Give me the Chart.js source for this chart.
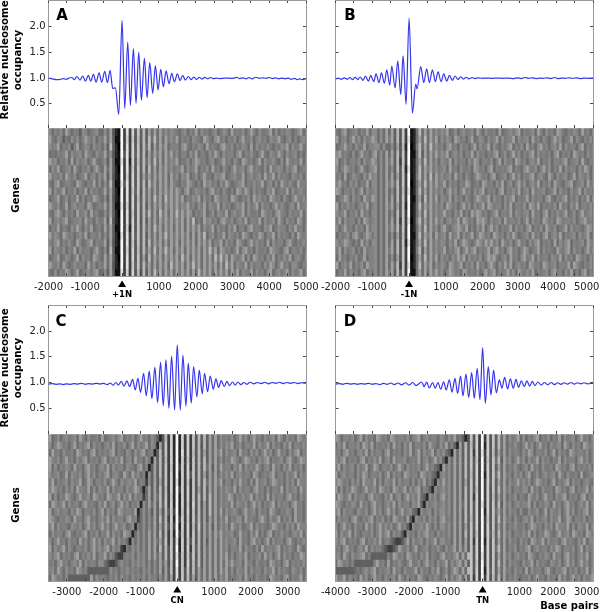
<!DOCTYPE html>
<html>
<head>
<meta charset="utf-8">
<script src="https://cdn.jsdelivr.net/npm/chart.js@4"></script>
<style>
html, body { margin: 0; padding: 0; background: #fff; }
#page { position: relative; width: 600px; height: 612px; overflow: hidden; }
canvas { position: absolute; }
canvas.heat { filter: blur(0.5px); }
</style>
</head>
<body>
<div id="page"></div>
<script>
// occupancy profiles, [base pair, value], peaks and troughs
var lineA = [[-2000,1.0],[-1900,.985],[-1780,.97],[-1680,.975],[-1590,.99],[-1520,.975],[-1440,1.0],[-1368,1.01],[-1295,.97],[-1232,1.03],[-1142,.96],[-1069,1.04],[-997,.94],[-915,1.05],[-852,.94],[-779,1.07],[-707,.92],[-625,1.10],[-553,.92],[-471,1.13],[-399,.91],[-326,1.15],[-254,.80],[-181,.81],[-90,.29],[0,2.12],[72,.41],[154,1.70],[226,.47],[308,1.57],[380,.51],[453,1.50],[525,.57],[607,1.38],[680,.62],[752,1.30],[833,.70],[906,1.24],[978,.77],[1051,1.17],[1123,.83],[1196,1.14],[1277,.89],[1350,1.09],[1422,.93],[1504,1.08],[1576,.95],[1649,1.05],[1721,.96],[1803,1.03],[1875,.97],[1950,1.02],[2020,.975],[2100,1.015],[2170,.98],[2250,1.012],[2320,.985],[2400,1.01],[2480,.99],[2570,1.0],[2650,.99],[2750,.995],[2850,1.0],[2950,.995],[3050,1.0],[3120,1.015],[3200,.99],[3290,1.005],[3370,.985],[3450,1.01],[3530,.985],[3640,1.015],[3730,.995],[3830,1.005],[3920,.995],[4000,1.01],[4090,.99],[4170,1.005],[4260,.985],[4340,1.0],[4430,.99],[4520,1.0],[4600,.975],[4690,.995],[4760,.97],[4830,.985],[4910,.97],[5000,.99]];
var lineB = [[-2000,.98],[-1920,1.0],[-1840,.975],[-1760,1.005],[-1680,.975],[-1610,1.01],[-1530,.97],[-1470,1.015],[-1390,.97],[-1332,1.02],[-1250,.955],[-1187,1.04],[-1105,.94],[-1042,1.05],[-960,.93],[-897,1.08],[-815,.91],[-752,1.10],[-670,.90],[-607,1.16],[-525,.86],[-471,1.23],[-380,.81],[-308,1.33],[-226,.68],[-163,1.43],[-82,.49],[0,2.16],[90,.32],[181,.88],[217,.79],[317,1.22],[399,.91],[480,1.18],[553,.91],[634,1.16],[716,.93],[788,1.12],[870,.93],[942,1.08],[1024,.94],[1097,1.05],[1178,.955],[1250,1.04],[1330,.97],[1400,1.025],[1480,.98],[1550,1.015],[1630,.985],[1710,1.01],[1790,.99],[1880,1.005],[1980,.995],[2100,1.0],[2250,.995],[2400,1.0],[2550,.995],[2700,1.0],[2850,.99],[2950,1.005],[3050,.99],[3150,1.01],[3250,.995],[3350,1.005],[3450,.99],[3550,1.0],[3650,.995],[3750,1.005],[3850,.99],[3950,1.01],[4050,.99],[4150,1.0],[4250,.995],[4350,1.005],[4450,.995],[4550,1.005],[4650,.99],[4750,1.0],[4850,.995],[5000,1.0]];
var lineC = [[-3500,.97],[-3400,.98],[-3300,.965],[-3200,.975],[-3100,.96],[-3000,.975],[-2900,.965],[-2800,.98],[-2700,.97],[-2600,.985],[-2500,.965],[-2400,.98],[-2300,.97],[-2200,.985],[-2100,.97],[-2000,.985],[-1900,.96],[-1820,.99],[-1740,.95],[-1670,1.0],[-1600,.95],[-1522,1.02],[-1450,.93],[-1368,1.03],[-1296,.92],[-1214,1.06],[-1142,.855],[-1069,1.08],[-997,.81],[-915,1.18],[-843,.74],[-761,1.22],[-689,.685],[-607,1.295],[-535,.61],[-453,1.39],[-380,.55],[-308,1.44],[-226,.50],[-154,1.515],[-72,.466],[0,1.73],[82,.466],[154,1.53],[236,.54],[299,1.37],[381,.60],[444,1.31],[535,.72],[598,1.24],[680,.78],[743,1.18],[824,.82],[897,1.125],[978,.87],[1051,1.07],[1123,.906],[1196,1.035],[1277,.92],[1350,1.02],[1422,.94],[1504,1.01],[1576,.95],[1649,1.01],[1730,.96],[1810,1.0],[1890,.965],[1980,1.005],[2080,.975],[2180,1.0],[2280,.98],[2380,1.005],[2480,.975],[2580,1.0],[2680,.985],[2780,1.005],[2880,.98],[2980,1.0],[3080,.985],[3180,1.0],[3280,.98],[3380,.995],[3500,.985]];
var lineD = [[-4000,.97],[-3900,.98],[-3800,.965],[-3700,.985],[-3600,.97],[-3500,.98],[-3400,.965],[-3300,.98],[-3200,.97],[-3100,.985],[-3000,.965],[-2900,.98],[-2800,.96],[-2700,.985],[-2600,.965],[-2500,.99],[-2400,.96],[-2300,.99],[-2200,.955],[-2100,.995],[-2000,.95],[-1900,1.0],[-1810,.94],[-1660,1.01],[-1590,.92],[-1522,1.01],[-1450,.895],[-1360,1.0],[-1290,.89],[-1214,1.0],[-1140,.87],[-1060,1.015],[-990,.855],[-906,1.05],[-833,.815],[-752,1.08],[-680,.79],[-600,1.125],[-535,.74],[-453,1.165],[-380,.71],[-299,1.19],[-226,.69],[-150,1.275],[-72,.67],[0,1.68],[72,.595],[154,1.31],[226,.76],[299,1.24],[371,.80],[453,1.05],[525,.89],[598,1.10],[680,.875],[752,1.07],[833,.89],[906,1.06],[978,.905],[1051,1.03],[1133,.92],[1205,1.03],[1277,.93],[1350,1.02],[1422,.94],[1504,1.01],[1590,.95],[1680,1.0],[1770,.955],[1860,1.0],[1950,.96],[2040,.995],[2130,.965],[2220,.995],[2310,.97],[2400,1.0],[2490,.97],[2580,.995],[2670,.975],[2760,.995],[2850,.975],[3000,.985]];

// heatmaps, one hex digit per 75 bp column (grey level), one string per row of genes.
// Coarse hand reading: stripes and the curved edges follow the picture, the fine grain is only approximated
var heatA = [
"7968796A86 8759867896 696A421F3E 3D4C5B5A6A 6A79798768 9687A69786 8967986A78 7968A86977 8A69687986 79A68",
"8A76985769 7968A87968 7A6A511F3D 3C4B5B5B6B 6A6A797A68 7869876A97 69A7868796 8A77968978 6988A76896 86897",
"6978A68795 8A67986978 695B520F3E 3D4C4B6B5A 6A7A688869 A7687986A7 8769A87968 7986A69787 9768798A69 78A76",
"9676878A69 7896A87697 7A69421F4E 3D5C5B5A6A 7A6A7A7968 8697A68769 7A86978869 A6879768A7 6987A86978 96867",
"7A8968796A 6978968A76 795A511E3E 2D4B5B6A6B 6A6A798A67 7968A97868 9678A78697 6A97868A69 7897696A87 87A69",
"8697A67896 A7687968A7 6A6A520F3E 3C4C5B5B6A 6A7A79788A 6978A68796 A7869768A7 8969A78769 6A78986979 A6788",
"6A78796A87 9678A68969 7A5A421F3D 3D4C5A6A6A 7A7A6A7969 8A67968A77 6989A67897 7A6897896A 78A6978769 87968",
"8769A67887 6A97687A69 696B511E4E 3D4C5B5B7A 6A7A6A8768 7A97686A89 78697A8678 9A687978A6 89696A8797 6A786",
"7A6978A687 9687A69786 7A6A520F3E 3C5C4B6A6A 6A7A7A7A86 9A67987869 A78697686A 97A8697876 98A6787A69 78976",
"9678A67968 7A69687A97 695A421F3E 3D4B5B6A6B 7A6B7A7A7A 68798A6978 6A97886A97 68796A8978 6A97869768 A8796",
"6A87967A68 97886A9678 7A6A511E3D 3D4C5B5A6A 7A6A7A7A79 8A78697A69 87A6978679 8A6978A697 868A797689 6A788",
"8769A86978 6A7896A786 696A520F3E 3C4C5B6B6A 6B7A6A7B7A 7A96878A67 96987A6897 8A697786A9 7869A87697 87A68",
"7A68979A67 8896A78697 7A5B421F3E 3D4C4B5A6A 6A7A7A7A7A 6A7B686A89 7869A87968 97A6887A69 7896A86978 6A967",
"9687A68769 7A8697A678 6A6A511F3D 2D4C5B6A6B 7A6A7A6A7A 6A7A7A6978 A6978697A6 8869A78769 8A67988697 A7869",
"6A7986A978 6897A68879 696A520E3E 3D5C5B5A6A 6A7B7A7A7A 7A6A6A7B68 9687A69878 6A97687A96 88A6978769 6A878",
"8879A68797 6A8679A687 7A5A421F3E 3C4C5B5B6A 7A6A6A7A6A 7A7A6A7A7A 688A69786A 9768A79786 A6978869A7 68796",
"7A69879687 A6978868A7 695B511F3D 3D4B5B6A6B 6A7B7A6A7A 6A7A7A6A7B 7A6A97868A 69A7869778 6A98769A68 87968",
"9678A67986 8A69786A97 6A6A520F3E 3D4C5A5B6A 7A6A7A7A6B 7A6A7A6A7A 6B7B7A6A87 8A696A9786 97A68797A6 8976A",
"6A8796A867 97886A7968 7A6A421F3E 3C5C5B6A6A 6A7A6B7A7A 6A7B7A6A7A 7A6A6B7A69 87A6978869 7A968A7869 97687",
"8769687A96 8A678979A6 695A511E3D 3D4B4B5A6B 7A6A7A6A7A 7A6A6B7A7A 6A7A7A6A7A 6987A69786 9A68978A69 78A67"
];
var heatB = [
"8769A67896 87A699696A 6A5B4C3F12 6B6A6A7979 8A67968978 96A8697786 A678979A68 7896A86978 6A97687986 A7869",
"7A68968A79 6978A9696A 7A5B4C3E12 6A6B6A7A69 7986A97868 A67986978A 69788A6978 96A7869768 A89678A697 68796",
"9678A78697 7A68899696 695A4B2F02 7B6A6B7978 69A7869786 8A6978A697 6879A68796 A7869A7868 97A6978869 A6878",
"69A7876968 A7869A696A 6A5B4C3F11 6B5A6A7A79 8A68979687 A69786879A 67968A7968 79A6978786 9A68786A97 86978",
"8A67968879 6978A9696A 7A5B3C3F12 6A6B6A7969 87A6978869 7A96887968 A69786A978 6897A68796 8879A67896 A7687",
"7968A97868 A7689A696A 695B4C2E12 6B6A7A7978 96A7869778 6A97869A68 7879A68769 A87968A796 87A6978869 7A968",
"9786A67987 697A89696A 6A5A4C3F12 7B6A6B6A79 7896A78697 68A97869A6 78968A7968 79A68976A8 6978967A69 87968",
"68A7869796 87A699696A 7A6B4C3F02 6A6B6A7A78 A6978687A9 6786A97869 7A68968A79 6897A68796 A87689A678 96A78",
"7A96887968 A69789696A 695B4B3E12 6B6A6A7979 68A7968A78 6979A68786 9A68797A68 96A7889678 A69786978A 69786",
"8678A96978 6A87A9696A 6A5B4C3F11 6A5B6A7A69 87A6978697 68A978A697 86979A6878 A6978869A7 6879A68796 87A69",
"9A68797868 97A689696A 7A5A4C2F12 6B6A7A7979 6A97868A79 6978A6A978 8697A68879 6A97A68787 96A78697A6 88796",
"6978A68796 A78699696A 695B4C3F12 6A6B6A7978 A78697A686 A8A978679A 6887A69878 96A7869A68 7978A67968 A7896",
"87A6978869 6A9789696A 6A5B3C3E02 7B6A6A7A79 68978A6A97 86A9A86978 96A7887968 A69786A978 6A97887968 9A786",
"7968A78697 86A799696A 7A6B4C3F12 6A6B6A7969 A7689A97A6 8697A68A79 6878A69786 9A68796A87 9678A69787 68A96",
"A6878969A7 68A979696A 695A4B3F11 6B6A7A6A78 96A78A6978 A68A9786A9 78697A8678 96A7869A68 97A6878969 78A67",
"6978A97686 A79699696A 6A5B4C2E12 6A6B6A7979 8697A68A97 68A97A8A79 6A87968A78 6979A68786 A6979A6878 96A87",
"87A6978968 6A7889696A 7A5B4C3F12 7B5A6A7978 A6879A68A7 9A6878A69A 7869A7868A 9678A69787 6A879A6978 68A79",
"96A7868796 7A6889696A 695A4C3F02 6A6B6A7A69 78697A8A69 787968A9A7 6896A7869A 78A6978869 87A69786A9 78696",
"7A6897A687 96A889696A 6A6B3C3E12 6B6A7A6979 86A978A687 96A7869A86 97A7A68978 6A9786A978 96887A6A97 68796",
"8687A69786 9A6879696A 7A5B4C3F11 6A6A6A7A79 68A9786A97 87968A79A6 878A796A87 97A6878969 A78697A686 9A687"
];
var heatC = [
"8A67968978 96A8697786 A678979A68 7968A78697 524B3D2F2D 3D3C4B5B5A 6A69787968 A7968A7869 7896A86978 6A978",
"7968A97868 A6879A6978 6897A68796 8A6978A697 2A4C3D2F2D 3D3C4B4B5A 6A69798A67 96887A6978 A6978697A6 88796",
"96A7869778 6A97869A68 7879A68769 86979A6782 5B4C3D2F2E 3D3B4B5A5A 6A7A697896 A78697968A 7968A78697 9A687",
"6A87968A78 6979A68786 9A68797A68 96A786972A 5B4B3D2F2D 3C3C4B5B5A 6A69687A97 68A9786979 A6878969A7 68A97",
"8A69687986 A7869A7868 97A6978869 8769A6825A 5B4C3C2F3D 3D3C4B5B6A 5A6A788697 A69787A868 96A78697A6 87968",
"6978967A69 87968A7968 79A68976A8 6A7968295A 5B4C3D2F2D 3D4C4B5A5A 6A69797A68 97886A9678 79A6886978 A6978",
"97A6878969 78A67A9688 7968A86978 97A687395A 5A4C3D2E2D 3C3C4B5B6A 6A7A688697 A78696A789 68A9786979 6A887",
"68A9786979 6A887A6969 87A6978869 78A9626A5A 5B4B3D2F3D 3D3C4A5B5A 6A697987A6 978869A786 96887A6978 96A78",
"7A69687A97 68A7896A97 86A978A697 A697836A5A 6B4C3C2F2D 3D3C4B5B5B 6A6978A968 7978A69786 A6978869A7 86978",
"86A978A697 8869A78769 7A68968A79 6879296A6A 5B5C3D2F2D 3C3D4B4A5B 6A69787A69 87968A7968 79A6978869 A7869",
"9A68978869 7A96887968 A69786A978 87A269695A 5A4B4C3F2C 3D3C4B5A5B 6A6A697897 68A7896978 6A97687986 A7869",
"6A97687986 A7869A7868 97A6978869 A78369696A 5B5B3D2F3D 3C3C5B5A5A 6A697A6879 96A78769A8 6978A68796 A7869",
"78A6978769 87968A7968 A7968A7896 792769696A 5A5B4C3F2D 3D3B4C5A6A 5A69796A87 9678A69787 68A9786979 6A887",
"A6978869A7 6879A68796 87A69786A9 8269696A6A 5B4B3C2F3C 3D3C4B5A6A 6A7A788967 A78697A686 9A68797868 97A68",
"7968A78697 86A7968A79 6978A69786 2969696A6A 6A5C3C3E2D 3C4C4B5A5A 6A6A797896 A7869A7868 A6978869A7 68796",
"8A6978A697 6887968A79 79A6978327 6979696A6A 5B5B4C3F2D 3D3C5B5A6A 6A6A796887 A6978696A7 8879A68797 6A867",
"6979A68786 9A68797A68 8A69743378 7969796A6A 6A5B4C3E3C 3C4C4B5A6A 6A6A7A6968 97A687896A 7968A69786 87A96",
"A7869A7868 97A6978869 9643347978 6979796969 6A6A4B3F3C 3D4B5B5A6A 6A6A6A7A78 96A7869778 6A97869A68 78796",
"7896A86978 6A97855555 5559786879 7878697969 6A5A5B3E3C 4C4B5A6A6A 6A6A7A6969 87A6978869 78A6978769 87968",
"86A9786955 555555A697 8768796978 6978796978 696A5A3E3C 4B5A5A6A6A 6A697A6878 96A7869778 6A97869A68 78A69"
];
var heatD = [
"7A96887968 A69786A978 6A97887968 9A68978869 8697A67524 C4D3F3D4C5 B6A6978A69 6879A68796 87A6978968 A7869",
"8697A68879 6A97A68787 96A78697A6 88796A8769 7A6852A5B5 B4D3F2D4C5 B6A6879768 A7968A7869 7896A86978 6A978",
"A7869A7868 97A6978869 A6878697A6 8A6978A697 9652A6A5B5 C3D3E3D4B5 A6A6978869 7A96887968 A69786A978 87968",
"6979A68786 9A68797A68 96A7889678 7A68968A79 5296A6A5B5 C4C3F3C4C6 B5A7968A79 6978A69786 87A6978869 A7968",
"87A6978969 78A67A9688 7968A86978 7968A78652 A796A6A5B5 C4D3F3D4C5 A6A6879768 96A7869778 6A97869A68 78796",
"9A68978869 7A96887968 A69786A978 86A9786528 9796A6A5B5 B4D3F2D4C6 B6A7869796 8A67968978 96A8697786 A6789",
"68A9786979 6A887A6969 87A6978869 697A685297 A796A6A5A5 C4D3F3D5C5 A6A6978A79 7968A97868 A6879A6978 68976",
"7A69687A97 68A7896A97 86A978A697 9A68752978 9796A6A5B5 C4C3F3D4C5 B6A7968879 96A7869778 6A97869A68 78A69",
"86A978A697 8869A78769 7A68968A79 7A65297969 A796A6A5B5 C3D3F3D4B5 A6A6879687 6A87968A78 6979A68786 9A687",
"6A97687986 A7869A7868 97A6978869 8A52978978 9796A6A6B5 C4D3E3D4C5 B5A7968978 8A69687986 A7869A7868 97A69",
"78A6978769 87968A7968 A7968A7896 5297896979 9796A6A5B5 C4D3F2D4C6 A6A6978696 6978967A69 87968A7968 79A68",
"A6978869A7 6879A68796 86A9786A52 9879697969 A786A6A5B5 B4D3F3C4C5 B6A7869768 97A6878969 78A67A9688 79687",
"7968A78697 86A7968A79 7968A78529 7897A86969 9796A6A5A5 C4D3F3D4C5 A6A6879778 68A9786979 6A887A6969 87A69",
"8A6978A697 6887968A79 A697852978 6979A78697 8796A6A5B5 C4C3F3D5B5 B6A7968879 7A69687A97 68A7896A97 86A97",
"6979A68786 9A68797A68 8643347A69 7896978A69 9786A6A5A5 C3D3F2D4C5 A6A6978697 86A978A697 8869A78769 7A689",
"A7869A7868 97A6978864 3346A87968 A678968797 6978A6A6A5 C4D3F3D4C6 B6A6879687 9A68978869 7A96887968 A6978",
"7896A86978 9A68555555 86A9786A97 8697A68769 A7879A6A6B C4D3E3D4C5 A6A7968978 6A97687986 A7869A7868 97A68",
"86A9786855 555558A786 A6879768A7 7968A78697 8A6979A6A5 C4C3F3D4C5 B6A6978769 78A6978769 87968A7968 A7968",
"5555555567 68979A6878 96A7869778 A6978697A6 7968A96A6B C4D3F2D5C5 A6A7869786 A6978869A7 6879A68796 87A69",
"8A78A69786 A7968A7869 7896A86978 6A97687986 8A6979A6A5 C3D3F3D4B5 B6A6879768 7968A78697 86A7968A79 6978A"
];

var xTicksAB = [-2000, -1000, 1000, 2000, 3000, 4000, 5000];
var xLabelsA = ["-2000", "-1000", "1000", "2000", "3000", "4000", "5000"];
var xLabelsB = ["-2000", "-1000", "1000", "2000", "3000 ", "4000  ", "5000    "];
var xTicksC = [-3000, -2000, -1000, 1000, 2000, 3000];
var xLabelsC = ["-3000", "-2000", "-1000", "1000", "2000", "3000"];
var xTicksD = [-4000, -3000, -2000, -1000, 1000, 2000, 3000];
var xLabelsD = ["-4000", "-3000", "-2000", "-1000", "1000", "2000  ", "3000    "];
var yTickValues = [0.5, 1.0, 1.5, 2.0];

var FONT = "'DejaVu Sans'";
var FRAME = "#999999";
var TICK = "#444444";
// what each hex digit of the heatmaps looks like, squeezed around mid grey
var GREYS = { "0": "#000", "1": "#101010", "2": "#282828", "3": "#404040", "4": "#585858", "5": "#606060", "6": "#6e6e6e", "7": "#7a7a7a",
  "8": "#828282", "9": "#8c8c8c", "A": "#a0a0a0", "B": "#b8b8b8", "C": "#c4c4c4", "D": "#d0d0d0", "E": "#e0e0e0", "F": "#f8f8f8" };
var page = document.getElementById("page");

// letters, axis captions and the black marker under the heatmaps
var annotations = {
  id: "annotations",
  afterDraw: function(chart, args, opts) {
    var ctx = chart.ctx;
    (opts.texts || []).forEach(function(t) {
      ctx.save();
      ctx.translate(t.x, t.y);
      if (t.rotate) ctx.rotate(-Math.PI / 2);
      ctx.font = t.font;
      ctx.fillStyle = "#000";
      ctx.textAlign = t.align || "center";
      ctx.textBaseline = "middle";
      ctx.fillText(t.text, 0, 0);
      ctx.restore();
    });
    if (opts.marker) {
      var x = chart.scales.x.getPixelForValue(0);
      var y = chart.chartArea.bottom;
      ctx.fillStyle = "#000";
      ctx.beginPath();
      ctx.moveTo(x, y + 4.5);
      ctx.lineTo(x + 4, y + 11);
      ctx.lineTo(x - 4, y + 11);
      ctx.closePath();
      ctx.fill();
      ctx.font = "bold 8.5px " + FONT;
      ctx.textAlign = "center";
      ctx.textBaseline = "middle";
      ctx.fillText(opts.marker, x, y + 19);
    }
  }
};

function addCanvas(left, top, width, height, cls) {
  var c = document.createElement("canvas");
  c.width = width;
  c.height = height;
  c.style.left = left + "px";
  c.style.top = top + "px";
  c.style.width = width + "px";
  c.style.height = height + "px";
  if (cls) c.className = cls;
  page.appendChild(c);
  return c;
}

// plot areas have fixed places, so the scales must not ask for extra room
function noPadding(s) { s.paddingTop = s.paddingBottom = s.paddingLeft = s.paddingRight = 0; }
function fixedWidth(w) { return function(s) { s.width = w; noPadding(s); }; }
function fixedHeight(h) { return function(s) { s.height = h; noPadding(s); }; }

function xAxis(pos, xMin, xMax, h, callback) {
  return {
    type: "linear", position: pos, min: xMin, max: xMax, offset: false,
    afterFit: fixedHeight(h),
    border: { color: FRAME, z: 2 },
    grid: { drawOnChartArea: false, offset: false, color: TICK, tickLength: -3, z: 1 },
    ticks: {
      stepSize: 500, autoSkip: false, maxRotation: 0, padding: 8,
      display: !!callback, callback: callback,
      color: "#222", font: { family: "DejaVu Sans", size: 10 }
    }
  };
}

function yFrame(pos, w) {
  return {
    position: pos, afterFit: fixedWidth(w),
    border: { color: FRAME, z: 2 },
    grid: { drawOnChartArea: false, drawTicks: false },
    ticks: { display: false }
  };
}

function drawLine(p) {
  var canvas = addCanvas(p.left, p.top, p.width, p.height);
  var yAxis = {
    type: "linear", position: "left", min: p.yMin, max: p.yMax,
    afterFit: fixedWidth(p.axisLeft),
    afterBuildTicks: function(s) { s.ticks = yTickValues.map(function(v) { return { value: v }; }); },
    border: { color: FRAME },
    grid: { drawOnChartArea: false, color: TICK, tickLength: -3 },
    ticks: {
      padding: 6, color: "#222", font: { family: "DejaVu Sans", size: 10 },
      display: p.showY,
      callback: function(v) { return v.toFixed(1); }
    }
  };
  var yRight = {
    type: "linear", position: "right", min: p.yMin, max: p.yMax,
    afterFit: fixedWidth(0),
    afterBuildTicks: function(s) { s.ticks = yTickValues.map(function(v) { return { value: v }; }); },
    border: { color: FRAME },
    grid: { drawOnChartArea: false, color: TICK, tickLength: -3 },
    ticks: { display: false }
  };
  new Chart(canvas, {
    type: "scatter",
    data: {
      datasets: [{
        data: p.data.map(function(d) { return { x: d[0], y: d[1] }; }),
        showLine: true,
        borderColor: "#3535ee",
        borderWidth: 1.2,
        pointRadius: 0,
        cubicInterpolationMode: "monotone"
      }]
    },
    plugins: [annotations],
    options: {
      responsive: false, animation: false,
      layout: { padding: { left: 0, right: p.padRight, top: 0, bottom: 0 } },
      scales: {
        x: xAxis("bottom", p.xMin, p.xMax, 0),
        x2: xAxis("top", p.xMin, p.xMax, 0),
        y: yAxis,
        y2: yRight
      },
      plugins: {
        legend: { display: false }, tooltip: { enabled: false }, title: { display: false },
        annotations: { texts: p.texts }
      }
    }
  });
}

function drawHeat(p) {
  var canvas = addCanvas(p.left, p.top, p.width, p.height, "heat");
  var rows = p.rows.map(function(r) { return r.replace(/ /g, ""); });
  var datasets = rows.map(function(r, rowIndex) {
    var digits = r.split("");
    return {
      data: digits.map(function(c, i) {
        return { x: p.firstColumn + i * 75, y: [rowIndex, rowIndex + 1] };
      }),
      backgroundColor: digits.map(function(c) { return GREYS[c]; }),
      borderWidth: 0,
      grouped: false,
      barPercentage: 1,
      categoryPercentage: 1
    };
  });
  var y = yFrame("left", p.axisLeft);
  y.type = "linear"; y.min = 0; y.max = rows.length; y.reverse = true;
  var y2 = yFrame("right", 0);
  y2.type = "linear"; y2.min = 0; y2.max = rows.length;
  new Chart(canvas, {
    type: "bar",
    data: { datasets: datasets },
    plugins: [annotations],
    options: {
      responsive: false, animation: false,
      layout: { padding: { left: 0, right: p.padRight, top: 0, bottom: 0 } },
      scales: {
        x: xAxis("bottom", p.xMin, p.xMax, p.height - p.plotHeight, function(v) {
          var i = p.tickValues.indexOf(v);
          return i < 0 ? "" : p.tickLabels[i];
        }),
        y: y,
        y2: y2
      },
      plugins: {
        legend: { display: false }, tooltip: { enabled: false }, title: { display: false },
        annotations: { texts: p.texts, marker: p.marker }
      }
    }
  });
}

var boldAxis = "bold 10.2px " + FONT;
var boldLetter = "bold 15px " + FONT;

drawLine({ left: 0, top: 0, width: 335, height: 128, axisLeft: 48.5, padRight: 29, data: lineA, xMin: -2000, xMax: 5000, yMin: 0.03, yMax: 2.515, showY: true,
  texts: [
    { text: "A", x: 62, y: 16, font: boldLetter },
    { text: "Relative nucleosome", x: 5, y: 60, rotate: true, font: boldAxis },
    { text: "occupancy", x: 18, y: 60, rotate: true, font: boldAxis }
  ] });
drawHeat({ left: 0, top: 128, width: 335, height: 170, plotHeight: 148, axisLeft: 48.5, padRight: 29, rows: heatA, firstColumn: -2025, xMin: -2000, xMax: 5000,
  tickValues: xTicksAB, tickLabels: xLabelsA, marker: "+1N",
  texts: [{ text: "Genes", x: 16, y: 67, rotate: true, font: boldAxis }] });

drawLine({ left: 300, top: 0, width: 300, height: 128, axisLeft: 35.5, padRight: 7, data: lineB, xMin: -2000, xMax: 5000, yMin: 0.03, yMax: 2.515, showY: false,
  texts: [{ text: "B", x: 50, y: 16, font: boldLetter }] });
drawHeat({ left: 300, top: 128, width: 300, height: 170, plotHeight: 148, axisLeft: 35.5, padRight: 7, rows: heatB, firstColumn: -2025, xMin: -2000, xMax: 5000,
  tickValues: xTicksAB, tickLabels: xLabelsB, marker: "-1N", texts: [] });

drawLine({ left: 0, top: 305, width: 335, height: 129, axisLeft: 48.5, padRight: 29, data: lineC, xMin: -3500, xMax: 3500, yMin: 0, yMax: 2.505, showY: true,
  texts: [
    { text: "C", x: 61, y: 17, font: boldLetter },
    { text: "Relative nucleosome", x: 5, y: 63, rotate: true, font: boldAxis },
    { text: "occupancy", x: 18, y: 63, rotate: true, font: boldAxis }
  ] });
drawHeat({ left: 0, top: 434, width: 335, height: 178, plotHeight: 147.5, axisLeft: 48.5, padRight: 29, rows: heatC, firstColumn: -3525, xMin: -3500, xMax: 3500,
  tickValues: xTicksC, tickLabels: xLabelsC, marker: "CN",
  texts: [{ text: "Genes", x: 16, y: 71, rotate: true, font: boldAxis }] });

drawLine({ left: 300, top: 305, width: 300, height: 129, axisLeft: 35.5, padRight: 7, data: lineD, xMin: -4000, xMax: 3000, yMin: 0, yMax: 2.505, showY: false,
  texts: [{ text: "D", x: 50, y: 17, font: boldLetter }] });
drawHeat({ left: 300, top: 434, width: 300, height: 178, plotHeight: 147.5, axisLeft: 35.5, padRight: 7, rows: heatD, firstColumn: -4050, xMin: -4000, xMax: 3000,
  tickValues: xTicksD, tickLabels: xLabelsD, marker: "TN",
  texts: [{ text: "Base pairs", x: 299, y: 172, align: "right", font: "bold 10px " + FONT }] });
</script>
</body>
</html>
